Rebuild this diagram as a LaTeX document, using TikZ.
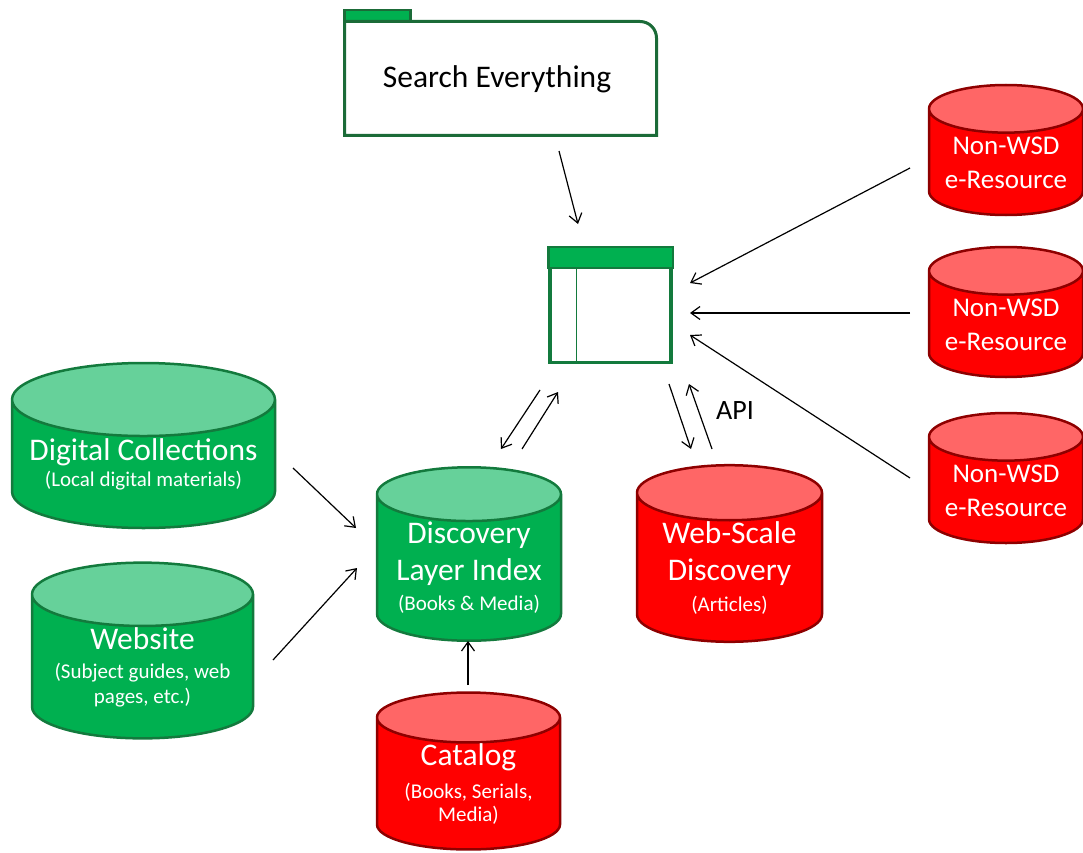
\documentclass[tikz,border=0pt]{standalone}
\usepackage{fontspec}
\setmainfont{Carlito}
\usetikzlibrary{arrows.meta, positioning, shapes.geometric, calc}

\definecolor{dbgreen}{HTML}{00B050}
\definecolor{dbgreentop}{HTML}{66D19A}
\definecolor{dbgreenline}{HTML}{137A3D}
\definecolor{dbred}{HTML}{FF0000}
\definecolor{dbredtop}{HTML}{FF6666}
\definecolor{dbredline}{HTML}{8E0000}
\definecolor{folderline}{HTML}{1B6B38}

\newcommand{\subtxt}{\fontsize{21}{25}\selectfont}

\begin{document}
\begin{tikzpicture}[x=1pt, y=-1pt]
  % Define styles for the databases and arrows
  \tikzstyle{db}=[cylinder, shape border rotate=90, draw, line width=2.5pt, cylinder uses custom fill, text=white, align=center, inner sep=0pt, font=\fontsize{31.5}{37}\selectfont]
  \tikzstyle{greendb}=[db, draw=dbgreenline, cylinder body fill=dbgreen, cylinder end fill=dbgreentop]
  \tikzstyle{reddb}=[db, draw=dbredline, cylinder body fill=dbred, cylinder end fill=dbredtop]
  \tikzstyle{arr}=[line width=1.2pt, -{Straight Barb[length=9pt,width=13pt]}]

  \useasboundingbox (0,0) rectangle (1083,853);

  % Search box (folder)
  \filldraw[fill=dbgreen, draw=folderline, line width=2.5pt] (344.5,10) rectangle (410.5,21.5);
  \draw[draw=folderline, line width=3pt] (344.5,135.5) -- (344.5,21.5) -- (640,21.5)
    arc[start angle=-90, end angle=0, radius=16.5] -- (656.5,135.5) -- cycle;
  \node[font=\fontsize{31.5}{37}\selectfont] (search) at (497,79) {Search Everything};

  % Results window
  \node[draw=dbgreenline, line width=3.5pt, minimum width=121pt, minimum height=114pt, inner sep=0pt] (win) at (610.5,305.5) {};
  \filldraw[fill=dbgreen, draw=dbgreenline, line width=2.5pt] (win.north west) rectangle ($(win.north east)+(0,21)$);
  \draw[dbgreenline, line width=1.5pt] ($(win.north west)+(28,21)$) -- ($(win.south west)+(28,0)$);

  % Green databases
  \node[greendb, minimum width=263pt, minimum height=165pt, aspect=0.32, anchor=shape center] (digital) at (143.5,445.5)
    {Digital Collections\\[-11pt]{\subtxt (Local digital materials)}};
  \node[greendb, minimum width=221pt, minimum height=165pt, aspect=0.36, anchor=shape center] (website) at (142.5,650.5)
    {Website\\[-8pt]{\subtxt (Subject guides, web}\\[-12pt]{\subtxt pages, etc.)}};
  \node[greendb, minimum width=184pt, minimum height=162pt, aspect=0.37, anchor=shape center] (dli) at (469,554)
    {Discovery\\Layer Index\\[-7pt]{\subtxt (Books \& Media)}};

  % Red databases
  \node[reddb, minimum width=185pt, minimum height=167pt, aspect=0.41, anchor=shape center] (wsd) at (729.5,553.5)
    {Web-Scale\\Discovery\\[-6pt]{\subtxt (Articles)}};
  \node[reddb, minimum width=183pt, minimum height=156pt, aspect=0.39, anchor=shape center] (catalog) at (468.5,771)
    {Catalog\\[-4pt]{\subtxt (Books, Serials,}\\[-14pt]{\subtxt Media)}};
  \node[reddb, font=\fontsize{27}{34}\selectfont, minimum width=154pt, minimum height=130pt, aspect=0.39, anchor=shape center] (nwsd1) at (1006,150)
    {Non-WSD\\e-Resource};
  \node[reddb, font=\fontsize{27}{34}\selectfont, minimum width=154pt, minimum height=130pt, aspect=0.39, anchor=shape center] (nwsd2) at (1006,312)
    {Non-WSD\\e-Resource};
  \node[reddb, font=\fontsize{27}{34}\selectfont, minimum width=154pt, minimum height=130pt, aspect=0.39, anchor=shape center] (nwsd3) at (1006,478)
    {Non-WSD\\e-Resource};

  \node[font=\fontsize{28}{32}\selectfont] (api) at (735,411) {API};

  % Arrow end points
  \coordinate (search-out) at (559,151);
  \coordinate (win-in) at (578,224);
  \coordinate (nwsd1-out) at (910,168);
  \coordinate (win-in1) at (690,283);
  \coordinate (nwsd2-out) at (910,313);
  \coordinate (win-in2) at (690,313);
  \coordinate (nwsd3-out) at (910,478);
  \coordinate (win-in3) at (690,335);
  \coordinate (win-out1) at (540,390);
  \coordinate (dli-in1) at (501,449);
  \coordinate (dli-out) at (522,449);
  \coordinate (win-in4) at (558,392);
  \coordinate (win-out2) at (669,384);
  \coordinate (wsd-in) at (691,449);
  \coordinate (wsd-out) at (712,449);
  \coordinate (win-in5) at (689,384);
  \coordinate (digital-out) at (293,468);
  \coordinate (dli-in2) at (356,528);
  \coordinate (website-out) at (273,660);
  \coordinate (dli-in3) at (357,568);
  \coordinate (catalog-out) at (468,685);
  \coordinate (dli-in4) at (468,641);

  % Arrows
  \draw[arr] (search-out) -- (win-in);
  \draw[arr] (nwsd1-out) -- (win-in1);
  \draw[arr] (nwsd2-out) -- (win-in2);
  \draw[arr] (nwsd3-out) -- (win-in3);
  \draw[arr] (win-out1) -- (dli-in1);
  \draw[arr] (dli-out) -- (win-in4);
  \draw[arr] (win-out2) -- (wsd-in);
  \draw[arr] (wsd-out) -- (win-in5);
  \draw[arr] (digital-out) -- (dli-in2);
  \draw[arr] (website-out) -- (dli-in3);
  \draw[arr] (catalog-out) -- (dli-in4);
\end{tikzpicture}
\end{document}
